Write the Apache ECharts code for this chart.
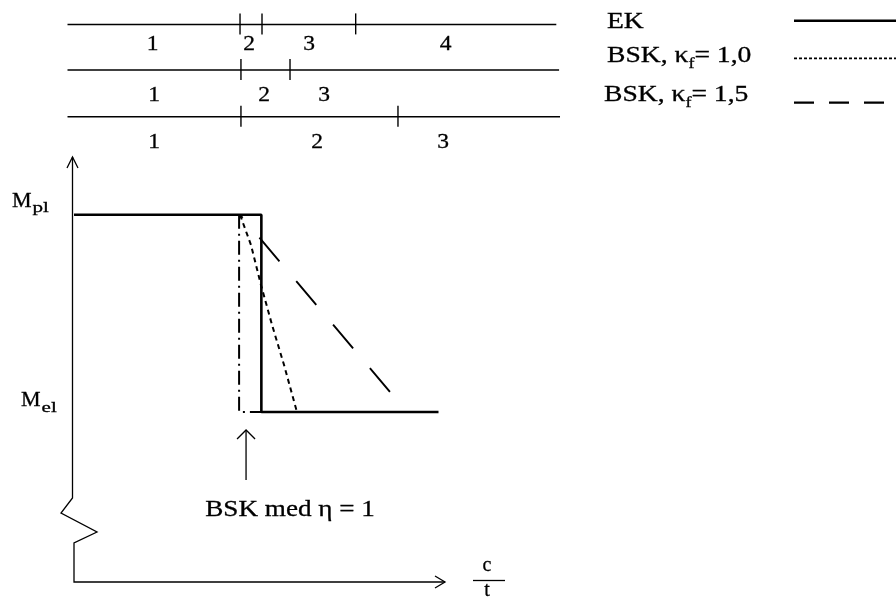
<!DOCTYPE html>
<html>
<head>
<meta charset="utf-8">
<script src="https://cdn.jsdelivr.net/npm/echarts@6/dist/echarts.min.js"></script>
<style>
  html, body { margin: 0; padding: 0; background: #fff; }
  #chart { width: 896px; height: 599px; }
</style>
</head>
<body>
<div id="chart"></div>
<script>
// Moment capacity versus flange slenderness c/t (schematic units).
const X_MAX = 40;   // c/t range shown on the horizontal axis
const Y_MAX = 10;   // moment range shown on the vertical axis

const M_PL = 8.64;  // plastic moment level
const M_EL = 4.0;   // elastic moment level

// EK: plastic capacity up to the class 2/3 limit, elastic beyond it
const ekX = [0, 20.2, 20.2, 39.3];
const ekY = [M_PL, M_PL, M_EL, M_EL];

// BSK, kappa_f = 1,0
const bsk10X = [17.9, 19.08, 20.16, 21.35, 22.64, 24.04];
const bsk10Y = [M_PL, 7.93, 6.99, 6.05, 5.11, M_EL];

// BSK, kappa_f = 1,5
const bsk15X = [17.9, 35.9];
const bsk15Y = [M_PL, M_EL];

// BSK with eta = 1
const bskEtaX = [17.8, 17.8, 20.2];
const bskEtaY = [M_PL, M_EL, M_EL];

// Cross-section class bands (EK, BSK kappa_f = 1,0, BSK kappa_f = 1,5)
const bandRowY = [13.12, 12.05, 10.95];
const bandStartX = [-0.7, -0.7, -0.7];
const bandEndX = [52.0, 52.3, 52.4];
const bandLimits = [[17.9, 20.27, 30.37], [18.0, 23.29], [18.0, 34.93]];
const bandLabelY = [12.64, 11.45, 10.35];
const bandLabelX = [[8.49, 18.87, 25.34, 40.07], [8.63, 20.49, 26.96], [8.63, 26.2, 39.79]];
const bandLabels = [['1', '2', '3', '4'], ['1', '2', '3'], ['1', '2', '3']];

// Annotated curve position (BSK med eta = 1)
const etaArrowX = 18.55;

// ---------------------------------------------------------------------------
const SERIF = '"Liberation Serif", "Times New Roman", serif';
const INK = '#000';
const STRETCH = 1.2;
const HEAVY = 0.3;   // thin outline to give the serif text a slightly heavier look

const measureCtx = document.createElement('canvas').getContext('2d');
function textWidth(str, size) {
  measureCtx.font = size + 'px ' + SERIF;
  return measureCtx.measureText(str).width;
}

function textStyle(text, size, align) {
  return {
    text: text,
    fontSize: size,
    fontFamily: SERIF,
    fill: INK,
    stroke: INK,
    lineWidth: HEAVY,
    textAlign: align || 'left',
    textVerticalAlign: 'middle'
  };
}

// Lay out text pieces left to right (used for subscripts).
function textRun(x, y, parts, stretch) {
  const out = [];
  let cx = x;
  parts.forEach(function (p) {
    const s = p.stretch || stretch;
    out.push({
      type: 'text',
      x: cx,
      y: y + (p.dy || 0),
      scaleX: s,
      style: textStyle(p.text, p.size),
      silent: true
    });
    cx += textWidth(p.text, p.size) * s + (p.gap || 0);
  });
  return out;
}

function pairs(xs, ys) { return xs.map(function (x, i) { return [x, ys[i]]; }); }

const series = [];

// Class band lines
series.push({
  type: 'custom',
  coordinateSystem: 'cartesian2d',
  clip: false,
  silent: true,
  data: bandRowY.map(function (y, i) { return [bandStartX[i], bandEndX[i], y]; }),
  renderItem: function (params, api) {
    const a = api.coord([api.value(0), api.value(2)]);
    const b = api.coord([api.value(1), api.value(2)]);
    return {
      type: 'line',
      shape: { x1: a[0], y1: a[1], x2: b[0], y2: b[1] },
      style: { stroke: INK, lineWidth: 1.5 }
    };
  }
});

// Class limit ticks
const tickData = [];
bandLimits.forEach(function (row, i) {
  row.forEach(function (x) { tickData.push([x, bandRowY[i]]); });
});
series.push({
  type: 'custom',
  coordinateSystem: 'cartesian2d',
  clip: false,
  silent: true,
  data: tickData,
  renderItem: function (params, api) {
    const p = api.coord([api.value(0), api.value(1)]);
    return {
      type: 'line',
      shape: { x1: p[0], y1: p[1] - 11, x2: p[0], y2: p[1] + 10 },
      style: { stroke: INK, lineWidth: 1.4 }
    };
  }
});

// Class numbers
const labelData = [];
const labelText = [];
bandLabelX.forEach(function (row, i) {
  row.forEach(function (x, j) {
    labelData.push([x, bandLabelY[i]]);
    labelText.push(bandLabels[i][j]);
  });
});
series.push({
  type: 'custom',
  coordinateSystem: 'cartesian2d',
  clip: false,
  silent: true,
  data: labelData,
  renderItem: function (params, api) {
    const p = api.coord([api.value(0), api.value(1)]);
    return {
      type: 'text',
      x: p[0],
      y: p[1],
      scaleX: 1.12,
      style: textStyle(labelText[params.dataIndex], 21, 'center')
    };
  }
});

// Capacity curves
series.push({
  type: 'line', name: 'BSK, η = 1', data: pairs(bskEtaX, bskEtaY),
  symbol: 'none', silent: true,
  lineStyle: { color: INK, width: 2, type: [14, 5, 2, 5] }
});
series.push({
  type: 'line', name: 'BSK, κf = 1,0', data: pairs(bsk10X, bsk10Y),
  symbol: 'none', silent: true,
  lineStyle: { color: INK, width: 2, type: [5, 4] }
});
series.push({
  type: 'line', name: 'BSK, κf = 1,5', data: pairs(bsk15X, bsk15Y),
  symbol: 'none', silent: true,
  lineStyle: { color: INK, width: 1.9, type: [31, 26], dashOffset: 27 }
});
series.push({
  type: 'line', name: 'EK', data: pairs(ekX, ekY),
  symbol: 'none', silent: true, z: 5,
  lineStyle: { color: INK, width: 2.6 }
});

// Axes with broken vertical axis and open arrow heads
series.push({
  type: 'custom',
  coordinateSystem: 'cartesian2d',
  clip: false,
  silent: true,
  data: [[0, 0]],
  renderItem: function (params, api) {
    const o = api.coord([0, 0]);
    const top = api.coord([0, Y_MAX]);
    const end = api.coord([X_MAX, 0]);
    const ux = o[0] - 1.5;
    const st = { stroke: INK, fill: null, lineWidth: 1.3 };
    return {
      type: 'group',
      children: [
        { type: 'polyline', shape: { points: [
          [ux, top[1]], [ux, o[1] - 84], [o[0] - 13, o[1] - 69],
          [o[0] + 23, o[1] - 50], [o[0], o[1] - 39], [o[0], o[1]], [end[0], end[1]]
        ] }, style: st },
        { type: 'polyline', shape: { points: [[ux - 5.5, top[1] + 11], [ux, top[1]], [ux + 5.5, top[1] + 11]] }, style: st },
        { type: 'polyline', shape: { points: [[end[0] - 10, end[1] - 6], [end[0], end[1]], [end[0] - 10, end[1] + 6]] }, style: st },
        // c / t
        { type: 'text', x: end[0] + 42, y: end[1] - 16, style: textStyle('c', 20, 'center') },
        { type: 'line', shape: { x1: end[0] + 28, y1: end[1] - 1.5, x2: end[0] + 60, y2: end[1] - 1.5 }, style: { stroke: INK, lineWidth: 1.3 } },
        { type: 'text', x: end[0] + 42, y: end[1] + 9, style: textStyle('t', 20, 'center') }
      ]
    };
  }
});

// Moment level labels
series.push({
  type: 'custom',
  coordinateSystem: 'cartesian2d',
  clip: false,
  silent: true,
  data: [[0, M_PL], [0, M_EL]],
  renderItem: function (params, api) {
    const p = api.coord([api.value(0), api.value(1)]);
    const i = params.dataIndex;
    const sub = i === 0 ? 'pl' : 'el';
    const left = i === 0 ? p[0] - 62 : p[0] - 53;
    const dy = i === 0 ? -14 : -11.4;
    return {
      type: 'group',
      children: textRun(left, p[1] + dy, [
        { text: 'M', size: 22, gap: 1, stretch: 1 },
        { text: sub, size: 15, dy: 7, stretch: 1.4 }
      ], 1)
    };
  }
});

// BSK med eta = 1 annotation
series.push({
  type: 'custom',
  coordinateSystem: 'cartesian2d',
  clip: false,
  silent: true,
  data: [[etaArrowX, M_EL]],
  renderItem: function (params, api) {
    const p = api.coord([api.value(0), api.value(1)]);
    const st = { stroke: INK, fill: null, lineWidth: 1.3 };
    return {
      type: 'group',
      children: [
        { type: 'line', shape: { x1: p[0], y1: p[1] + 18, x2: p[0], y2: p[1] + 68 }, style: st },
        { type: 'polyline', shape: { points: [[p[0] - 9, p[1] + 27], [p[0], p[1] + 18], [p[0] + 9, p[1] + 27]] }, style: st },
        { type: 'text', x: p[0] + 44, y: p[1] + 98, scaleX: 1.18, style: textStyle('BSK med η = 1', 23, 'center') }
      ]
    };
  }
});

// Legend drawn as text rows with line samples on the right
const legendGraphic = [].concat(
  textRun(607, 22, [{ text: 'EK', size: 23 }], STRETCH),
  textRun(607, 56, [
    { text: 'BSK, κ', size: 23 },
    { text: 'f', size: 15, dy: 8 },
    { text: '= 1,0', size: 23 }
  ], STRETCH),
  textRun(604, 95, [
    { text: 'BSK, κ', size: 23 },
    { text: 'f', size: 15, dy: 8 },
    { text: '= 1,5', size: 23 }
  ], STRETCH),
  [
    { type: 'line', shape: { x1: 794, y1: 20.7, x2: 896, y2: 20.7 }, style: { stroke: INK, lineWidth: 2.6 } },
    { type: 'line', shape: { x1: 794, y1: 58.3, x2: 896, y2: 58.3 }, style: { stroke: INK, lineWidth: 1.7, lineDash: [3, 2] } },
    { type: 'line', shape: { x1: 794, y1: 102.7, x2: 896, y2: 102.7 }, style: { stroke: INK, lineWidth: 2.2, lineDash: [20, 15] } }
  ]
);

const chart = echarts.init(document.getElementById('chart'), null, { renderer: 'canvas' });
chart.setOption({
  animation: false,
  backgroundColor: '#fff',
  grid: { left: 74, right: 451, top: 157, bottom: 17, containLabel: false },
  xAxis: { type: 'value', min: 0, max: X_MAX, show: false },
  yAxis: { type: 'value', min: 0, max: Y_MAX, show: false },
  graphic: legendGraphic,
  series: series
});
</script>
</body>
</html>
